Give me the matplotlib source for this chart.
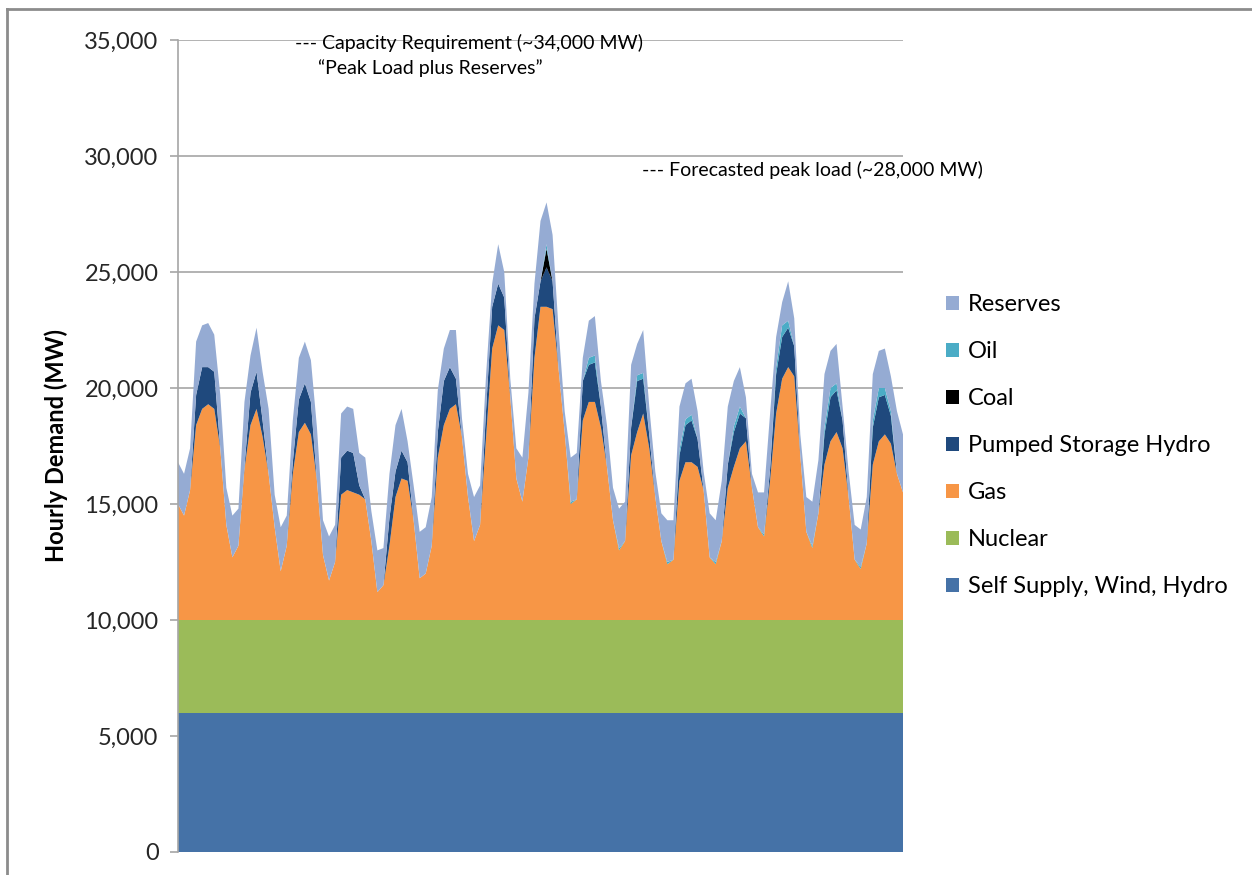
import numpy as np
import matplotlib
matplotlib.use("Agg")
import matplotlib.pyplot as plt
from matplotlib.lines import Line2D
from matplotlib.ticker import FuncFormatter

plt.rcParams['font.family'] = ['Lato', 'DejaVu Sans']

# hour of the 15-day window, one reading every 3 hours
hours = np.arange(0, 361, 3)

# flat blocks (MW)
self_supply_mw = 6000
nuclear_mw = 4000

# layer thickness (MW), 8 readings per day + closing point
gas = [
    5000, 4500, 5600, 8400, 9100, 9300, 9100, 7400,
    4100, 2700, 3200, 6500, 8400, 9100, 7900, 6300,
    4000, 2100, 3200, 6300, 8100, 8500, 8000, 6000,
    2800, 1700, 2500, 5400, 5600, 5500, 5400, 5200,
    3400, 1200, 1500, 3200, 5300, 6100, 6000, 4300,
    1800, 2000, 3200, 7000, 8400, 9100, 9300, 7900,
    5300, 3400, 4100, 7900, 11700, 12700, 12500, 9600,
    6100, 5100, 7000, 11300, 13500, 13500, 13400, 10800,
    8100, 5000, 5200, 8600, 9400, 9400, 8300, 6600,
    4300, 3000, 3400, 7100, 8100, 8900, 7400, 5300,
    3400, 2400, 2600, 6000, 6800, 6800, 6600, 5600,
    2700, 2400, 3400, 5700, 6600, 7400, 7700, 5700,
    4000, 3600, 6000, 8900, 10400, 10900, 10500, 7100,
    3800, 3100, 4600, 6700, 7700, 8100, 7400, 5300,
    2600, 2200, 3300, 6700, 7700, 8000, 7600, 6300,
    5500,
]
pumped = [
    0, 0, 0, 1300, 1800, 1600, 1600, 0,
    0, 0, 0, 100, 1400, 1600, 700, 0,
    0, 0, 0, 500, 1400, 1700, 1400, 0,
    0, 0, 0, 1600, 1700, 1700, 400, 0,
    0, 0, 0, 1200, 1100, 1200, 800, 0,
    0, 0, 0, 1100, 1900, 1800, 1100, 0,
    0, 0, 0, 1200, 1800, 1800, 1400, 0,
    0, 0, 0, 1700, 1100, 1700, 1200, 0,
    0, 0, 0, 1700, 1600, 1700, 900, 0,
    0, 0, 0, 1200, 2200, 1500, 600, 0,
    0, 0, 0, 1100, 1600, 1800, 1200, 0,
    0, 0, 0, 1000, 1500, 1500, 1000, 0,
    0, 0, 500, 1700, 1800, 1700, 1300, 0,
    0, 0, 0, 1300, 1900, 1800, 1200, 0,
    0, 0, 0, 1600, 1900, 1700, 1200, 0,
    0,
]
coal = [0] * 61 + [800] + [0] * 59
oil = [
    0, 0, 0, 0, 0, 0, 0, 0,
    0, 0, 0, 0, 0, 0, 0, 0,
    0, 0, 0, 0, 0, 0, 0, 0,
    0, 0, 0, 0, 0, 0, 0, 0,
    0, 0, 0, 0, 0, 0, 0, 0,
    0, 0, 0, 0, 0, 0, 0, 0,
    0, 0, 0, 0, 0, 0, 0, 0,
    0, 0, 0, 0, 0, 200, 0, 0,
    0, 100, 0, 0, 300, 300, 0, 0,
    0, 100, 0, 0, 250, 250, 0, 0,
    0, 100, 0, 250, 250, 250, 0, 0,
    0, 100, 0, 0, 250, 300, 0, 0,
    0, 100, 0, 300, 500, 300, 0, 0,
    0, 100, 0, 300, 400, 300, 0, 0,
    0, 100, 0, 300, 400, 300, 200, 0,
    0,
]
reserves = [
    1800, 1800, 1800, 2300, 1800, 1900, 1600, 2300,
    1600, 1800, 1600, 2800, 1600, 1900, 2100, 2800,
    1400, 1900, 1300, 1800, 1800, 1800, 1800, 2300,
    1500, 1900, 1600, 1900, 1900, 1900, 1400, 1800,
    1300, 1800, 1600, 1900, 2000, 1800, 900, 1500,
    2000, 2000, 2100, 1800, 1400, 1600, 2100, 800,
    1000, 1900, 1700, 1500, 1000, 1700, 1100, 800,
    1300, 1900, 2800, 1500, 2600, 1800, 2000, 1700,
    900, 1900, 2000, 1000, 1600, 1700, 1100, 1800,
    1400, 1700, 1700, 2700, 1350, 1850, 1200, 1100,
    1200, 1800, 1700, 1850, 1550, 1550, 1200, 800,
    1900, 1800, 2600, 2500, 1950, 1700, 900, 600,
    1500, 1800, 2400, 1300, 1000, 1700, 1200, 900,
    1500, 1900, 2300, 2300, 1600, 1700, 600, 1100,
    1500, 1600, 2000, 2000, 1600, 1700, 1500, 2700,
    2500,
]

labels = ['Self Supply, Wind, Hydro', 'Nuclear', 'Gas', 'Pumped Storage Hydro',
          'Coal', 'Oil', 'Reserves']
colors = ['#4572A7', '#9BBB59', '#F79646', '#1F497D', '#000000', '#4BACC6', '#95ABD3']

y_ticks = [0, 5000, 10000, 15000, 20000, 25000, 30000, 35000]

fig = plt.figure(figsize=(12.52, 8.75), dpi=100)
ax = fig.add_axes([178 / 1252, 1 - 852 / 875, 725 / 1252, 812 / 875])

n = len(hours)
series = [np.full(n, self_supply_mw), np.full(n, nuclear_mw), gas, pumped, coal, oil, reserves]
ax.stackplot(hours, *series, colors=colors, labels=labels, linewidth=0)

ax.set_xlim(0, 360)
ax.set_ylim(0, 35000)
ax.set_yticks(y_ticks)
ax.yaxis.set_major_formatter(FuncFormatter(lambda v, p: f'{int(v):,}'))
ax.set_xticks([])
ax.yaxis.grid(True, color='#A6A6A6', linewidth=1.2)
ax.set_axisbelow(True)
for s in ['top', 'right', 'bottom']:
    ax.spines[s].set_visible(False)
ax.spines['left'].set_color('#A6A6A6')
ax.spines['left'].set_linewidth(1.2)
ax.tick_params(axis='y', length=6, width=1.2, color='#A6A6A6', labelsize=17,
               labelcolor='#262626', pad=8)
ax.set_ylabel('Hourly Demand (MW)', fontsize=17, fontweight='bold', labelpad=12)

# legend, top layer first
handles, labs = ax.get_legend_handles_labels()
fig.legend(handles[::-1], labs[::-1], loc='upper left',
           bbox_to_anchor=(925 / 1252, 1 - 273 / 875), frameon=False,
           fontsize=17, handlelength=0.55, handleheight=0.55, handletextpad=0.35,
           labelspacing=1.1)

# annotations
fig.text(295 / 1252, 1 - 43 / 875, '--- Capacity Requirement (~34,000 MW)',
         fontsize=14, va='center', ha='left')
fig.text(318 / 1252, 1 - 68 / 875, '\u201cPeak Load plus Reserves\u201d',
         fontsize=14, va='center', ha='left')
fig.text(642 / 1252, 1 - 170 / 875, '--- Forecasted peak load (~28,000 MW)',
         fontsize=14, va='center', ha='left')

# outer frame of the slide
fig.add_artist(Line2D([7 / 1252, 1], [1 - 9 / 875, 1 - 9 / 875], color='#8C8C8C', lw=2))
fig.add_artist(Line2D([7 / 1252, 7 / 1252], [0, 1 - 9 / 875], color='#8C8C8C', lw=2))

fig.savefig('out.png', dpi=100)
